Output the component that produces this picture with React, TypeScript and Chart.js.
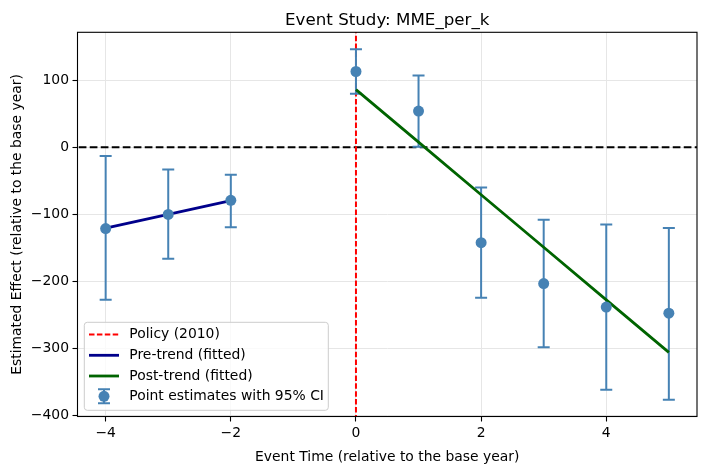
import { useEffect, useRef } from "react";
import Chart from "chart.js/auto";

const eventTimes = [-4, -3, -2, 0, 1, 2, 3, 4, 5];
const estimates = [-121, -100, -79, 113, 54, -142, -203, -238, -247];
const ciLower = [-227, -166, -119, 80, 1, -224, -298, -361, -376];
const ciUpper = [-13, -33, -41, 146, 107, -60, -108, -115, -120];
const preTrendX = [-4, -3, -2];
const preTrendY = [-120.5, -100, -79.5];
const postTrendX = [0, 1, 2, 3, 4, 5];
const postTrendY = [86, 7.7, -70.6, -148.9, -227.2, -305.5];
const policyTime = 0;
const baseLine = 0;
const xTicks = [-4, -2, 0, 2, 4];
const yTicks = [-400, -300, -200, -100, 0, 100];
const xRange = [-4.45, 5.45];
const yRange = [-401, 171.4];

const titleText = "Event Study: MME_per_k";
const xLabel = "Event Time (relative to the base year)";
const yLabel = "Estimated Effect (relative to the base year)";
const legendLabels = ["Policy (2010)", "Pre-trend (fitted)", "Post-trend (fitted)", "Point estimates with 95% CI"];

const FONT = "'DejaVu Sans', sans-serif";
const STEEL = "#4682B4";
const NAVY = "#00008B";
const GREEN = "#006400";
const TREND_W = 2.8;

const fmt = (v: number) => (v < 0 ? "\u2212" + Math.abs(v) : String(v));

export default function App() {
  const ref = useRef<HTMLCanvasElement>(null);
  useEffect(() => {
    const canvas = ref.current!;
    const PRE = 2;

    const errPlugin = {
      id: "errbars",
      beforeDatasetDraw(chart: any, args: any) {
        if (args.index !== PRE) return;
        const ctx = chart.ctx;
        const xs = chart.scales.x, ys = chart.scales.y;
        ctx.save();
        ctx.strokeStyle = STEEL;
        ctx.lineWidth = 2;
        eventTimes.forEach((t, i) => {
          const px = xs.getPixelForValue(t);
          const lo = ys.getPixelForValue(ciLower[i]);
          const hi = ys.getPixelForValue(ciUpper[i]);
          ctx.beginPath();
          ctx.moveTo(px, lo);
          ctx.lineTo(px, hi);
          ctx.moveTo(px - 6, lo);
          ctx.lineTo(px + 6, lo);
          ctx.moveTo(px - 6, hi);
          ctx.lineTo(px + 6, hi);
          ctx.stroke();
        });
        ctx.restore();
      },
    };

    const decorPlugin = {
      id: "decor",
      afterDraw(chart: any) {
        const ctx = chart.ctx;
        const a = chart.chartArea;
        ctx.save();
        ctx.strokeStyle = "#000";
        ctx.lineWidth = 1.1;
        ctx.strokeRect(a.left, a.top, a.right - a.left, a.bottom - a.top);
        ctx.fillStyle = "#000";
        ctx.textAlign = "center";
        ctx.textBaseline = "alphabetic";
        ctx.font = `16.7px ${FONT}`;
        ctx.fillText(titleText, (a.left + a.right) / 2, 24.5);
        ctx.font = `13.9px ${FONT}`;
        ctx.fillText(xLabel, (a.left + a.right) / 2, 461);
        ctx.save();
        ctx.translate(20.5, (a.top + a.bottom) / 2);
        ctx.rotate(-Math.PI / 2);
        ctx.fillText(yLabel, 0, 0);
        ctx.restore();

        const bx = a.left + 6.8, by = 322.3, bw = 244, bh = 88;
        ctx.beginPath();
        const r = 3;
        ctx.moveTo(bx + r, by);
        ctx.arcTo(bx + bw, by, bx + bw, by + bh, r);
        ctx.arcTo(bx + bw, by + bh, bx, by + bh, r);
        ctx.arcTo(bx, by + bh, bx, by, r);
        ctx.arcTo(bx, by, bx + bw, by, r);
        ctx.closePath();
        ctx.fillStyle = "rgba(255,255,255,0.8)";
        ctx.fill();
        ctx.strokeStyle = "#cccccc";
        ctx.lineWidth = 1;
        ctx.stroke();

        const rows = [334.5, 355.3, 376, 396.3];
        const hx0 = bx + 4.7, hx1 = bx + 34.7, hxc = (hx0 + hx1) / 2;
        ctx.strokeStyle = "red";
        ctx.lineWidth = 2;
        ctx.setLineDash([5.5, 2.4]);
        ctx.beginPath();
        ctx.moveTo(hx0, rows[0]);
        ctx.lineTo(hx1, rows[0]);
        ctx.stroke();
        ctx.setLineDash([]);
        ctx.strokeStyle = NAVY;
        ctx.lineWidth = TREND_W;
        ctx.beginPath();
        ctx.moveTo(hx0, rows[1]);
        ctx.lineTo(hx1, rows[1]);
        ctx.stroke();
        ctx.strokeStyle = GREEN;
        ctx.beginPath();
        ctx.moveTo(hx0, rows[2]);
        ctx.lineTo(hx1, rows[2]);
        ctx.stroke();
        ctx.strokeStyle = STEEL;
        ctx.lineWidth = 2;
        ctx.beginPath();
        ctx.moveTo(hxc, rows[3] - 7);
        ctx.lineTo(hxc, rows[3] + 7);
        ctx.moveTo(hxc - 6, rows[3] - 7);
        ctx.lineTo(hxc + 6, rows[3] - 7);
        ctx.moveTo(hxc - 6, rows[3] + 7);
        ctx.lineTo(hxc + 6, rows[3] + 7);
        ctx.stroke();
        ctx.fillStyle = STEEL;
        ctx.beginPath();
        ctx.arc(hxc, rows[3], 5.5, 0, Math.PI * 2);
        ctx.fill();

        ctx.fillStyle = "#000";
        ctx.textAlign = "left";
        ctx.textBaseline = "middle";
        ctx.font = `13.9px ${FONT}`;
        legendLabels.forEach((t, i) => ctx.fillText(t, bx + 45, rows[i]));
        ctx.restore();
      },
    };

    const tickCommon = {
      color: "#000",
      font: { family: FONT, size: 13.9 },
      autoSkip: false,
      maxRotation: 0,
      callback: (v: any) => fmt(Number(v)),
    };
    const gridCommon = {
      color: "#e6e6e6",
      lineWidth: 1,
      tickColor: "#000",
      tickLength: 5,
      tickWidth: 1.1,
    };

    const chart = new Chart(canvas, {
      type: "scatter",
      data: {
        datasets: [
          {
            label: legendLabels[3],
            data: eventTimes.map((x, i) => ({ x, y: estimates[i] })),
            backgroundColor: STEEL,
            borderColor: STEEL,
            borderWidth: 0,
            pointRadius: 5.5,
            pointHoverRadius: 5.5,
            order: 0,
          } as any,
          {
            type: "line",
            label: legendLabels[2],
            data: postTrendX.map((x, i) => ({ x, y: postTrendY[i] })),
            borderColor: GREEN,
            borderWidth: TREND_W,
            pointRadius: 0,
            tension: 0,
            fill: false,
            order: 1,
          },
          {
            type: "line",
            label: legendLabels[1],
            data: preTrendX.map((x, i) => ({ x, y: preTrendY[i] })),
            borderColor: NAVY,
            borderWidth: TREND_W,
            pointRadius: 0,
            tension: 0,
            fill: false,
            order: 2,
          },
          {
            type: "line",
            label: legendLabels[0],
            data: [
              { x: policyTime, y: yRange[0] - 100 },
              { x: policyTime, y: yRange[1] + 100 },
            ],
            borderColor: "red",
            borderWidth: 2,
            borderDash: [5.5, 2.4],
            pointRadius: 0,
            fill: false,
            clip: 0,
            order: 3,
          },
          {
            type: "line",
            label: "zero",
            data: [
              { x: xRange[0] - 10, y: baseLine },
              { x: xRange[1] + 10, y: baseLine },
            ],
            borderColor: "#000",
            borderWidth: 2,
            borderDash: [7.7, 3.3],
            pointRadius: 0,
            fill: false,
            clip: 0,
            order: 4,
          },
        ] as any,
      },
      options: {
        responsive: false,
        animation: false,
        events: [],
        layout: { padding: { top: 32.3, right: 10, left: 0, bottom: 0 } },
        plugins: {
          legend: { display: false },
          tooltip: { enabled: false },
          title: { display: false },
        },
        scales: {
          x: {
            type: "linear",
            min: xRange[0],
            max: xRange[1],
            afterBuildTicks: (s: any) => {
              s.ticks = xTicks.map((v) => ({ value: v }));
            },
            afterFit: (s: any) => {
              s.height = 53.5;
            },
            grid: gridCommon,
            border: { display: false },
            ticks: { ...tickCommon, padding: 3.2 },
          },
          y: {
            type: "linear",
            min: yRange[0],
            max: yRange[1],
            afterBuildTicks: (s: any) => {
              s.ticks = yTicks.map((v) => ({ value: v }));
            },
            afterFit: (s: any) => {
              s.width = 77.5;
            },
            grid: gridCommon,
            border: { display: false },
            ticks: { ...tickCommon, padding: 3.5 },
          },
        },
      } as any,
      plugins: [errPlugin, decorPlugin],
    });
    return () => chart.destroy();
  }, []);

  return (
    <div style={{ position: "fixed", left: 0, top: 0, width: 707, height: 470, background: "#fff" }}>
      <canvas ref={ref} width={707} height={470} style={{ display: "block" }} />
    </div>
  );
}
